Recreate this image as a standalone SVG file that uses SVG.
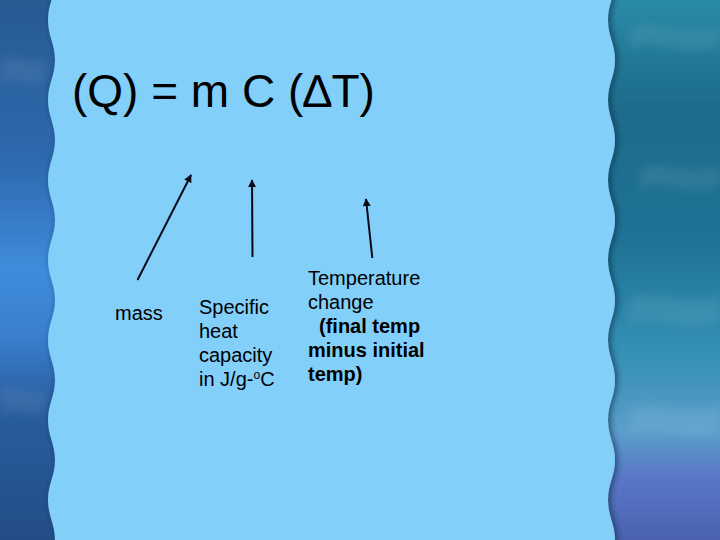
<svg xmlns="http://www.w3.org/2000/svg" width="720" height="540" viewBox="0 0 720 540">
  <style>
    .t { font-family: "Liberation Sans", Arial, sans-serif; fill: #000; }
    .lbl { font-size: 20px; }
    .b { font-weight: bold; }
    .conn { stroke: #0a0a1a; stroke-width: 2; fill: none; marker-end: url(#ah); }
  </style>
  <defs>
    <linearGradient id="gl" x1="0" y1="0" x2="0" y2="1">
      <stop offset="0" stop-color="#285a93"/>
      <stop offset="0.3" stop-color="#2d6aae"/>
      <stop offset="0.5" stop-color="#3f8cdc"/>
      <stop offset="0.62" stop-color="#3a80cf"/>
      <stop offset="0.75" stop-color="#295d9f"/>
      <stop offset="1" stop-color="#234d88"/>
    </linearGradient>
    <linearGradient id="gr" x1="0" y1="0" x2="0" y2="1">
      <stop offset="0" stop-color="#2a8aa6"/>
      <stop offset="0.2" stop-color="#1d6b8b"/>
      <stop offset="0.45" stop-color="#1f7395"/>
      <stop offset="0.65" stop-color="#3590b4"/>
      <stop offset="0.8" stop-color="#5a9ecb"/>
      <stop offset="0.88" stop-color="#5a78c6"/>
      <stop offset="1" stop-color="#4a62b0"/>
    </linearGradient>
    <filter id="sh" x="-10%" y="-10%" width="120%" height="120%">
      <feDropShadow dx="2" dy="0" stdDeviation="3" flood-color="#0a2848" flood-opacity="0.7"/>
    </filter>
    <filter id="soft"><feGaussianBlur stdDeviation="4"/></filter>
    <marker id="ah" viewBox="0 0 10 10" refX="9" refY="5" markerWidth="4" markerHeight="4" orient="auto" markerUnits="strokeWidth">
      <path d="M0,0 L10,5 L0,10 z" fill="#0a0a1a"/>
    </marker>
  </defs>

  <g id="background">
    <rect x="0" y="0" width="360" height="540" fill="url(#gl)"/>
    <rect x="360" y="0" width="360" height="540" fill="url(#gr)"/>
    <g fill="#ffffff" opacity="0.07" filter="url(#soft)">
      <path d="M0,60 C15,50 30,70 45,58 L45,80 C30,90 15,75 0,85 Z"/>
      <path d="M0,390 C15,380 30,400 45,388 L45,410 C30,420 15,405 0,415 Z"/>
      <path d="M630,30 C650,15 690,40 720,25 L720,45 C690,60 650,35 630,50 Z"/>
      <path d="M640,170 C660,155 690,180 720,165 L720,185 C690,200 660,175 640,190 Z"/>
      <path d="M630,300 C650,285 690,310 720,295 L720,320 C690,335 650,310 630,325 Z"/>
      <path d="M630,410 C650,395 690,420 720,405 L720,430 C690,445 650,420 630,435 Z"/>
    </g>
  </g>

  <g id="panel" filter="url(#sh)">
    <path fill="#82cffa" d="M55,-20 C55,-4 48,4 48,20 C48,36 55,44 55,60 C55,76 48,84 48,100 C48,116 55,124 55,140 C55,156 48,164 48,180 C48,196 55,204 55,220 C55,236 48,244 48,260 C48,276 55,284 55,300 C55,316 48,324 48,340 C48,356 55,364 55,380 C55,396 48,404 48,420 C48,436 55,444 55,460 C55,476 48,484 48,500 C48,516 55,524 55,540 C55,556 48,564 48,580 L608,580 C608,564 615,556 615,540 C615,524 608,516 608,500 C608,484 615,476 615,460 C615,444 608,436 608,420 C608,404 615,396 615,380 C615,364 608,356 608,340 C608,324 615,316 615,300 C615,284 608,276 608,260 C608,244 615,236 615,220 C615,204 608,196 608,180 C608,164 615,156 615,140 C615,124 608,116 608,100 C608,84 615,76 615,60 C615,44 608,36 608,20 C608,4 615,-4 615,-20 Z"/>
  </g>

  <g id="title">
    <text class="t" x="72" y="107" font-size="46">(Q) = m C (∆T)</text>
  </g>

  <g id="connectors">
    <line class="conn" x1="137.5" y1="280" x2="191" y2="175"/>
    <line class="conn" x1="252.5" y1="257" x2="252" y2="180"/>
    <line class="conn" x1="372.3" y1="258" x2="366" y2="199"/>
  </g>

  <g id="mass">
    <text class="t lbl" x="115" y="320">mass</text>
  </g>

  <g id="specific-heat">
    <text class="t lbl" x="199" y="314">Specific</text>
    <text class="t lbl" x="199" y="338">heat</text>
    <text class="t lbl" x="199" y="362">capacity</text>
    <text class="t lbl" x="199" y="386">in J/g-<tspan font-size="12" dy="-7">o</tspan><tspan dy="7">C</tspan></text>
  </g>

  <g id="temperature-change">
    <text class="t lbl" x="308" y="285">Temperature</text>
    <text class="t lbl" x="308" y="309">change</text>
    <text class="t lbl b" x="319" y="333">(final temp</text>
    <text class="t lbl b" x="308" y="357">minus initial</text>
    <text class="t lbl b" x="308" y="381">temp)</text>
  </g>
</svg>
